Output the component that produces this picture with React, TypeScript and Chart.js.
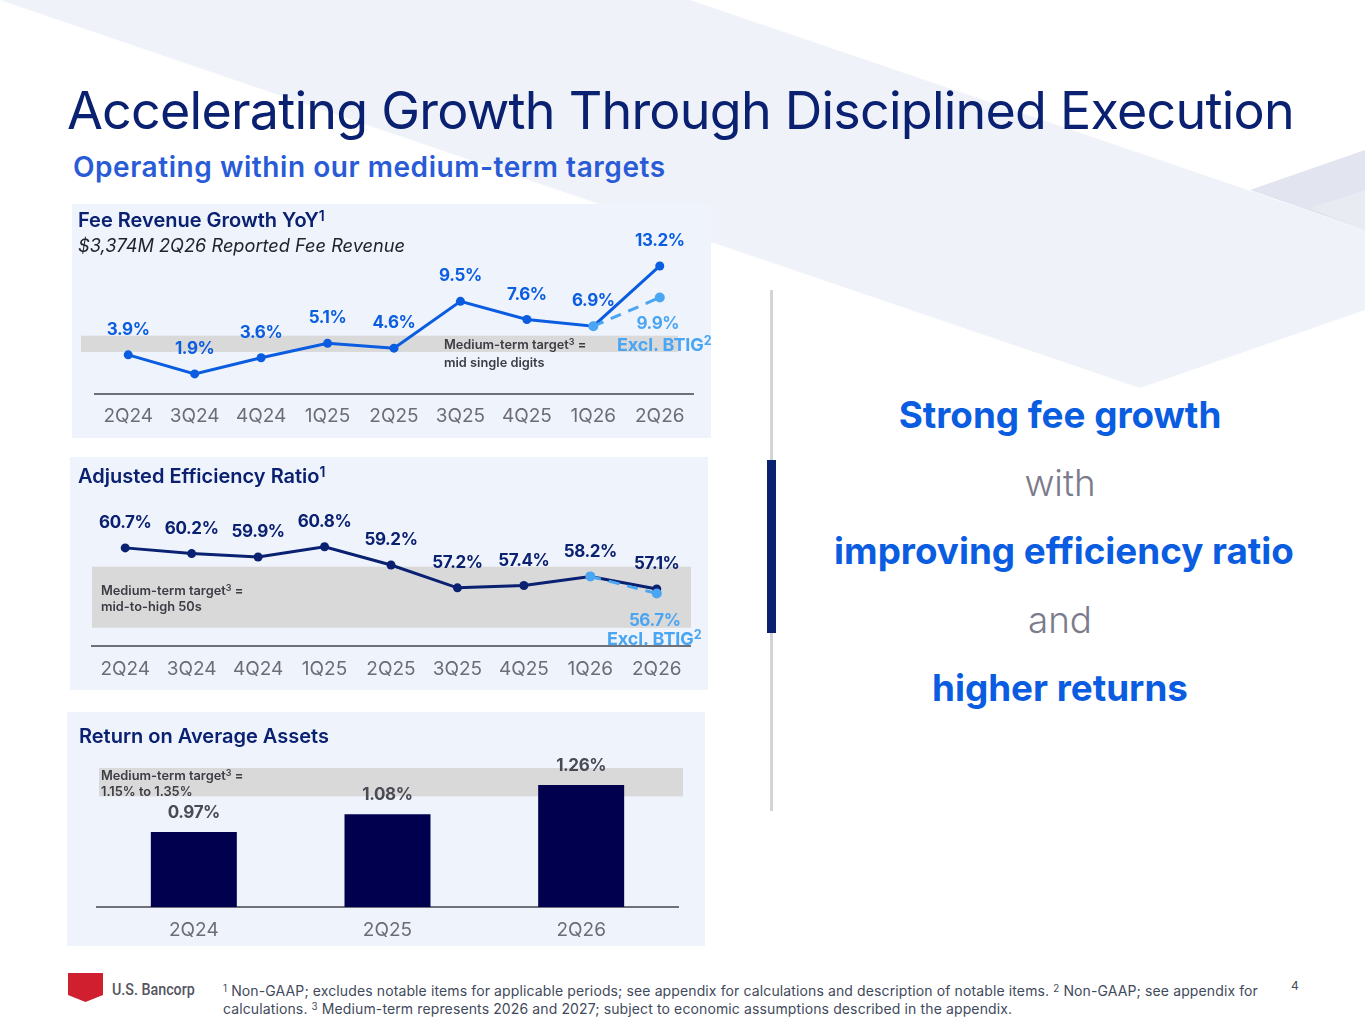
import { useEffect, useRef } from 'react';
import type { CSSProperties, ReactNode } from 'react';
import { Chart, registerables } from 'chart.js';

Chart.register(...registerables);

const FONT = 'Inter, "Noto Sans", sans-serif';
const NAVY = '#0a2070';
const BLUE = '#0a5ce0';
const LIGHT_BLUE = '#4aa5f2';
const TICK_GRAY = '#6c6c78';
const BAND_GRAY = '#d9d9d9';

const quarters = ['2Q24', '3Q24', '4Q24', '1Q25', '2Q25', '3Q25', '4Q25', '1Q26', '2Q26'];

const feeGrowth = [3.9, 1.9, 3.6, 5.1, 4.6, 9.5, 7.6, 6.9, 13.2];
const feeGrowthExBtig = [null, null, null, null, null, null, null, 6.9, 9.9];
const feeTargetBand = [4.2, 5.9];

const efficiency = [60.7, 60.2, 59.9, 60.8, 59.2, 57.2, 57.4, 58.2, 57.1];
const efficiencyExBtig = [null, null, null, null, null, null, null, 58.2, 56.7];
const efficiencyTargetBand = [53.7, 59.05];

const roaQuarters = ['2Q24', '2Q25', '2Q26'];
const roa = [0.97, 1.08, 1.26];
const roaTargetBand = [1.19, 1.365];

// draws the grey target band behind the marks and the value labels on top
const panelPlugin = {
  id: 'panelPlugin',
  beforeDatasetsDraw(chart: any, _args: any, opts: any) {
    const { ctx, scales } = chart;
    const top = scales.y.getPixelForValue(opts.band[1]);
    const bottom = scales.y.getPixelForValue(opts.band[0]);
    ctx.save();
    ctx.fillStyle = BAND_GRAY;
    ctx.fillRect(opts.bandLeft, top, opts.bandRight - opts.bandLeft, bottom - top);
    ctx.restore();
  },
  afterDatasetsDraw(chart: any, _args: any, opts: any) {
    const { ctx } = chart;
    ctx.save();
    ctx.textAlign = 'center';
    ctx.textBaseline = 'middle';
    ctx.font = `700 ${opts.labelSize}px ${FONT}`;
    ctx.letterSpacing = '-0.4px';
    opts.labels.forEach((l: any) => {
      const meta = chart.getDatasetMeta(l.dataset);
      const values = chart.data.datasets[l.dataset].data;
      ctx.fillStyle = l.color;
      meta.data.forEach((pt: any, i: number) => {
        if (values[i] == null) return;
        if (l.only != null && l.only !== i) return;
        ctx.fillText(values[i].toFixed(l.digits) + '%', pt.x + (l.dx || 0), pt.y + l.dy);
      });
    });
    ctx.restore();
  },
};

const xAxis = (tickPad: number, height: number) => ({
  offset: true,
  grid: { display: false, drawTicks: false },
  border: { display: true, color: '#6f7078', width: 2 },
  ticks: { color: TICK_GRAY, font: { family: FONT, size: 19 }, padding: tickPad, maxRotation: 0, autoSkip: false },
  afterFit: (s: any) => {
    s.height = height;
  },
});

function ChartCanvas({ config, style }: { config: any; style: CSSProperties }) {
  const ref = useRef<HTMLCanvasElement>(null);
  useEffect(() => {
    if (!ref.current) return;
    const chart = new Chart(ref.current, config);
    return () => chart.destroy();
  }, []);
  return (
    <canvas
      ref={ref}
      width={style.width as number}
      height={style.height as number}
      style={{ position: 'absolute', display: 'block', ...style }}
    />
  );
}

const lineConfig = (
  main: number[],
  excl: (number | null)[],
  color: string,
  yMin: number,
  yMax: number,
  padding: any,
  bandOpts: any,
  exclDy: number,
  tickPad: number,
) => ({
  type: 'line',
  data: {
    labels: quarters,
    datasets: [
      {
        data: excl,
        order: 0,
        borderColor: LIGHT_BLUE,
        backgroundColor: LIGHT_BLUE,
        borderWidth: 3,
        borderDash: [11, 8],
        pointRadius: 5,
        pointBorderWidth: 0,
        clip: false,
      },
      {
        data: main,
        order: 1,
        borderColor: color,
        backgroundColor: color,
        borderWidth: 3,
        pointRadius: 4.5,
        pointBorderWidth: 0,
        clip: false,
      },
    ],
  },
  options: {
    responsive: false,
    animation: false,
    layout: { padding },
    plugins: {
      legend: { display: false },
      tooltip: { enabled: false },
      panelPlugin: {
        ...bandOpts,
        labelSize: 17,
        labels: [
          { dataset: 1, color, digits: 1, dy: -25 },
          { dataset: 0, color: LIGHT_BLUE, digits: 1, dy: exclDy, only: 8, dx: -2 },
        ],
      },
    },
    scales: {
      x: xAxis(tickPad, 30),
      y: { display: false, min: yMin, max: yMax },
    },
  },
  plugins: [panelPlugin],
});

const feeConfig = lineConfig(
  feeGrowth,
  feeGrowthExBtig,
  BLUE,
  -0.2,
  18.64,
  { left: 23, right: 18, top: 10, bottom: 14 },
  { band: feeTargetBand, bandLeft: 9, bandRight: 606 },
  26,
  11,
);

const efficiencyConfig = lineConfig(
  efficiency,
  efficiencyExBtig,
  NAVY,
  52.1,
  67.0,
  { left: 22, right: 18, top: 19, bottom: 14 },
  { band: efficiencyTargetBand, bandLeft: 22, bandRight: 621 },
  27,
  12,
);

const roaConfig = {
  type: 'bar',
  data: {
    labels: roaQuarters,
    datasets: [{ data: roa, backgroundColor: '#00004f', categoryPercentage: 1, barPercentage: 0.444 }],
  },
  options: {
    responsive: false,
    animation: false,
    layout: { padding: { left: 30, right: 27, top: 33, bottom: 9 } },
    plugins: {
      legend: { display: false },
      tooltip: { enabled: false },
      panelPlugin: {
        band: roaTargetBand,
        bandLeft: 32,
        bandRight: 616,
        labelSize: 17,
        labels: [{ dataset: 0, color: '#4a4a55', digits: 2, dy: -19 }],
      },
    },
    scales: {
      x: xAxis(12, 30),
      y: { display: false, min: 0.507, max: 1.507 },
    },
  },
  plugins: [panelPlugin],
};

function Txt({ x, y, children, style }: { x: number; y: number; children: ReactNode; style?: CSSProperties }) {
  return (
    <div style={{ position: 'absolute', left: x, top: y, lineHeight: 1, whiteSpace: 'nowrap', transform: 'translateY(-50%)', ...style }}>
      {children}
    </div>
  );
}

const Sup = ({ children }: { children: ReactNode }) => (
  <span style={{ fontSize: '0.7em', verticalAlign: '0.45em', lineHeight: 0 }}>{children}</span>
);

function Centered({ y, color, weight, cx = 1060, children }: { y: number; color: string; weight: number; cx?: number; children: ReactNode }) {
  return (
    <div
      style={{
        position: 'absolute', left: cx - 300, width: 600, top: y, textAlign: 'center', lineHeight: 1,
        transform: 'translateY(-50%)', fontSize: 36.8, fontWeight: weight, color, whiteSpace: 'nowrap',
      }}
    >
      {children}
    </div>
  );
}

function Panel({ x, y, w, h }: { x: number; y: number; w: number; h: number }) {
  return <div style={{ position: 'absolute', left: x, top: y, width: w, height: h, background: '#eff3fb' }} />;
}

const titleStyle: CSSProperties = { fontSize: 20, fontWeight: 600, color: NAVY };
const targetStyle: CSSProperties = { fontSize: 12.8, fontWeight: 600, color: '#3c3c44' };
const exclStyle: CSSProperties = { fontSize: 18, fontWeight: 700, color: LIGHT_BLUE, letterSpacing: -0.1 };
const footStyle: CSSProperties = { fontSize: 14, color: '#3f4a5c', letterSpacing: 0.12 };

export default function App() {
  return (
    <div style={{ position: 'absolute', left: 0, top: 0, width: 1365, height: 1024, overflow: 'hidden', background: '#fff', fontFamily: FONT }}>
      <svg width={1365} height={1024} style={{ position: 'absolute', left: 0, top: 0 }}>
        <polygon points="1250,190 1365,150 1365,230" fill="#e2e5f0" />
        <polygon points="1310,208 1365,190 1365,230" fill="#e9ebf3" />
        <polygon points="0,0 690,0 1365,230 1365,310 1140,388" fill="#f0f2f9" />
        <rect x={770} y={290} width={3} height={521} fill="#d3d4d8" />
        <rect x={767} y={460} width={9} height={173} fill={NAVY} />
        <polygon points="68,973 103,973 103,995 85.5,1002 68,995" fill="#d01f2e" />
      </svg>

      <Txt x={67} y={111} style={{ fontSize: 52, fontWeight: 400, color: NAVY, letterSpacing: -0.76 }}>
        Accelerating Growth Through Disciplined Execution
      </Txt>
      <Txt x={73} y={167} style={{ fontSize: 28, fontWeight: 600, color: '#2a5bd7', letterSpacing: 0.55 }}>
        Operating within our medium-term targets
      </Txt>

      <Panel x={72} y={204} w={639} h={234} />
      <Panel x={70} y={457} w={638} h={233} />
      <Panel x={67} y={712} w={638} h={234} />

      <ChartCanvas config={feeConfig} style={{ left: 72, top: 204, width: 639, height: 234 }} />
      <ChartCanvas config={efficiencyConfig} style={{ left: 70, top: 457, width: 638, height: 233 }} />
      <ChartCanvas config={roaConfig} style={{ left: 67, top: 712, width: 638, height: 234 }} />

      <Txt x={78} y={220} style={titleStyle}>Fee Revenue Growth YoY<Sup>1</Sup></Txt>
      <Txt x={78} y={245} style={{ fontSize: 18.2, fontStyle: 'italic', color: '#20242e' }}>$3,374M 2Q26 Reported Fee Revenue</Txt>
      <Txt x={444} y={345} style={targetStyle}>Medium-term target<Sup>3</Sup> =</Txt>
      <Txt x={444} y={363} style={targetStyle}>mid single digits</Txt>
      <Txt x={617} y={345} style={exclStyle}>Excl. BTIG<Sup>2</Sup></Txt>

      <Txt x={78} y={476} style={titleStyle}>Adjusted Efficiency Ratio<Sup>1</Sup></Txt>
      <Txt x={101} y={591} style={targetStyle}>Medium-term target<Sup>3</Sup> =</Txt>
      <Txt x={101} y={607} style={targetStyle}>mid-to-high 50s</Txt>
      <Txt x={607} y={638.5} style={exclStyle}>Excl. BTIG<Sup>2</Sup></Txt>

      <Txt x={79} y={736} style={titleStyle}>Return on Average Assets</Txt>
      <Txt x={101} y={776} style={targetStyle}>Medium-term target<Sup>3</Sup> =</Txt>
      <Txt x={101} y={792} style={targetStyle}>1.15% to 1.35%</Txt>

      <Centered y={415} color={BLUE} weight={700}>Strong fee growth</Centered>
      <Centered y={483} color="#7b7b8c" weight={300}>with</Centered>
      <Centered y={551} color={BLUE} weight={700} cx={1064}>improving efficiency ratio</Centered>
      <Centered y={620} color="#7b7b8c" weight={300}>and</Centered>
      <Centered y={688} color={BLUE} weight={700}>higher returns</Centered>

      <Txt x={112} y={989} style={{ fontSize: 17, color: '#55555f', fontFamily: 'Roboto, sans-serif', fontWeight: 500, transform: 'translateY(-50%) scaleX(0.84)', transformOrigin: 'left center' }}>U.S. Bancorp</Txt>
      <Txt x={223} y={991} style={footStyle}>
        <Sup>1</Sup> Non-GAAP; excludes notable items for applicable periods; see appendix for calculations and description of notable items. <Sup>2</Sup> Non-GAAP; see appendix for
      </Txt>
      <Txt x={223} y={1009} style={footStyle}>
        calculations. <Sup>3</Sup> Medium-term represents 2026 and 2027; subject to economic assumptions described in the appendix.
      </Txt>
      <Txt x={1291} y={986} style={{ fontSize: 12, color: '#3f4a5c' }}>4</Txt>
    </div>
  );
}
